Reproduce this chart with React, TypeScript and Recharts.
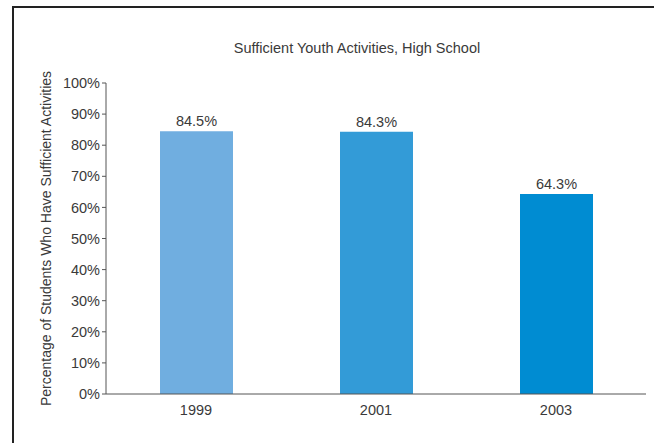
import { BarChart, Bar, XAxis, YAxis, Cell, LabelList } from 'recharts';

const years = ['1999', '2001', '2003'];
const percentages = [84.5, 84.3, 64.3];
const barColors = ['#70AEE0', '#339BD7', '#008CD2'];
const yTicks = [0, 10, 20, 30, 40, 50, 60, 70, 80, 90, 100];

const data = years.map((year, i) => ({ year, value: percentages[i] }));

const font = '"Liberation Sans", Arial, sans-serif';
const textColor = '#3a3a3a';

const App = () => {
  return (
    <div
      style={{
        position: 'fixed',
        left: 0,
        top: 0,
        width: 654,
        height: 443,
        background: '#fff',
        overflow: 'hidden',
        fontFamily: font,
      }}
    >
      <div
        style={{
          position: 'absolute',
          left: 12,
          top: 6,
          width: 700,
          height: 500,
          borderTop: '2px solid #222',
          borderLeft: '2px solid #222',
        }}
      />
      <div
        style={{
          position: 'absolute',
          left: 0,
          width: 714,
          top: 40,
          textAlign: 'center',
          fontSize: 14.5,
          color: textColor,
        }}
      >
        Sufficient Youth Activities, High School
      </div>
      <div style={{ position: 'absolute', left: 0, top: 0 }}>
        <BarChart
          width={654}
          height={443}
          data={data}
          margin={{ top: 83, right: 8, bottom: 19, left: 0 }}
          barSize={73}
        >
          <XAxis
            dataKey="year"
            height={30}
            tickLine={false}
            axisLine={{ stroke: '#555' }}
            tick={{ fill: textColor, fontSize: 14.5, fontFamily: font }}
            tickMargin={5}
          />
          <YAxis
            width={106}
            domain={[0, 100]}
            ticks={yTicks}
            tickFormatter={(v) => `${v}%`}
            axisLine={{ stroke: '#555' }}
            tickLine={{ stroke: '#555' }}
            tickSize={4}
            tickMargin={2}
            interval={0}
            tick={{ fill: textColor, fontSize: 14.5, fontFamily: font }}
            label={{
              value: 'Percentage of Students Who Have Sufficient Activities',
              angle: -90,
              position: 'center',
              dx: -7,
              style: { fill: textColor, fontSize: 14, fontFamily: font },
            }}
          />
          <Bar dataKey="value" isAnimationActive={false}>
            {data.map((d, i) => (
              <Cell key={d.year} fill={barColors[i]} />
            ))}
            <LabelList
              dataKey="value"
              position="top"
              offset={5}
              formatter={(v: number) => `${v}%`}
              style={{ fill: textColor, fontSize: 14.5, fontFamily: font }}
            />
          </Bar>
        </BarChart>
      </div>
    </div>
  );
};

export default App;
